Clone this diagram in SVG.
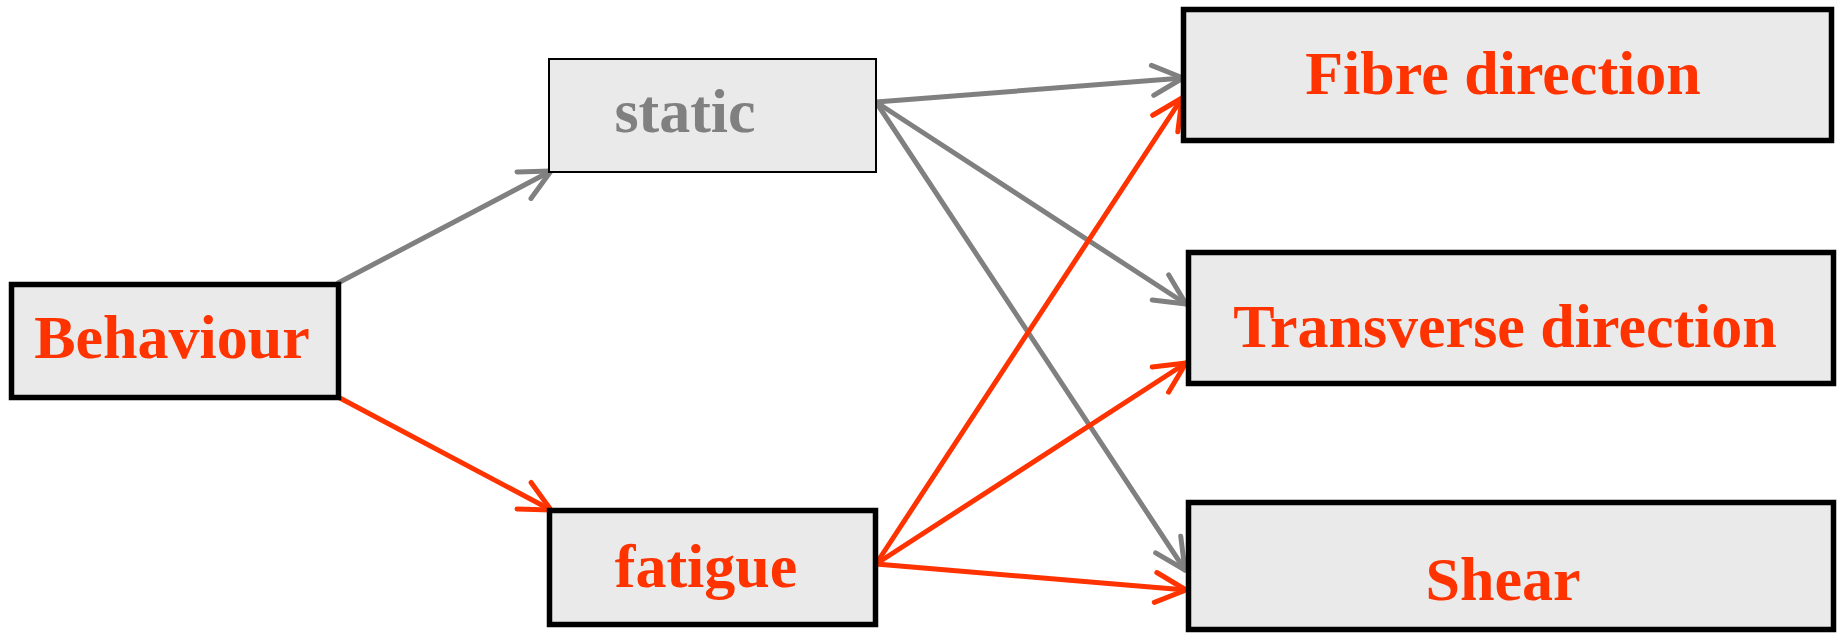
<svg xmlns="http://www.w3.org/2000/svg" width="1839" height="633" viewBox="0 0 1839 633">
  <style>
    .box { fill: #EAEAEA; stroke: #000; stroke-width: 5.5; }
    .thin { stroke-width: 2; }
    .lbl { font-family: "Liberation Serif", "Times New Roman", serif; font-weight: bold; font-size: 62px; text-anchor: middle; }
    .red { fill: #FF3300; }
    .grey { fill: #808080; }
    .edge { fill: none; stroke-width: 5; stroke-linecap: round; }
    .eg { stroke: #808080; }
    .er { stroke: #FF3300; }
  </style>
  <defs>
    <marker id="arrowGrey" markerUnits="userSpaceOnUse" orient="auto" overflow="visible" refX="0" refY="0" markerWidth="1" markerHeight="1">
      <path d="M-30.5,-15 L0,0 L-30.5,15" fill="none" stroke="#808080" stroke-width="5" stroke-linecap="round" stroke-linejoin="round"/>
    </marker>
    <marker id="arrowRed" markerUnits="userSpaceOnUse" orient="auto" overflow="visible" refX="0" refY="0" markerWidth="1" markerHeight="1">
      <path d="M-30.5,-15 L0,0 L-30.5,15" fill="none" stroke="#FF3300" stroke-width="5" stroke-linecap="round" stroke-linejoin="round"/>
    </marker>
  </defs>

  <rect width="1839" height="633" fill="#fff"/>

  <!-- arrows between the nodes -->
  <g id="connectors">
    <line class="edge eg" x1="338" y1="283" x2="551" y2="171" marker-end="url(#arrowGrey)"/>
    <line class="edge eg" x1="876" y1="102" x2="1183" y2="78" marker-end="url(#arrowGrey)"/>
    <line class="edge eg" x1="876" y1="102" x2="1186" y2="304" marker-end="url(#arrowGrey)"/>
    <line class="edge eg" x1="876" y1="102" x2="1185" y2="570" marker-end="url(#arrowGrey)"/>
    <line class="edge er" x1="338" y1="397" x2="551" y2="510" marker-end="url(#arrowRed)"/>
    <line class="edge er" x1="876" y1="564" x2="1182" y2="98" marker-end="url(#arrowRed)"/>
    <line class="edge er" x1="876" y1="564" x2="1186" y2="363" marker-end="url(#arrowRed)"/>
    <line class="edge er" x1="876" y1="564" x2="1186" y2="590" marker-end="url(#arrowRed)"/>
  </g>

  <g id="behaviour">
    <rect class="box" x="11.5" y="284.5" width="327" height="113"/>
    <text class="lbl red" x="172" y="358">Behaviour</text>
  </g>
  <g id="static">
    <rect class="box thin" x="549" y="59" width="327" height="113"/>
    <text class="lbl grey" x="685" y="132">static</text>
  </g>
  <g id="fatigue">
    <rect class="box" x="549.5" y="510.5" width="326" height="114"/>
    <text class="lbl red" x="706" y="587">fatigue</text>
  </g>
  <g id="fibre-direction">
    <rect class="box" x="1183.5" y="9.5" width="648" height="131"/>
    <text class="lbl red" x="1503" y="94">Fibre direction</text>
  </g>
  <g id="transverse-direction">
    <rect class="box" x="1188.5" y="252.5" width="645" height="131"/>
    <text class="lbl red" x="1505" y="347">Transverse direction</text>
  </g>
  <g id="shear">
    <rect class="box" x="1188.5" y="502.5" width="645" height="127"/>
    <text class="lbl red" x="1503" y="600">Shear</text>
  </g>
</svg>
